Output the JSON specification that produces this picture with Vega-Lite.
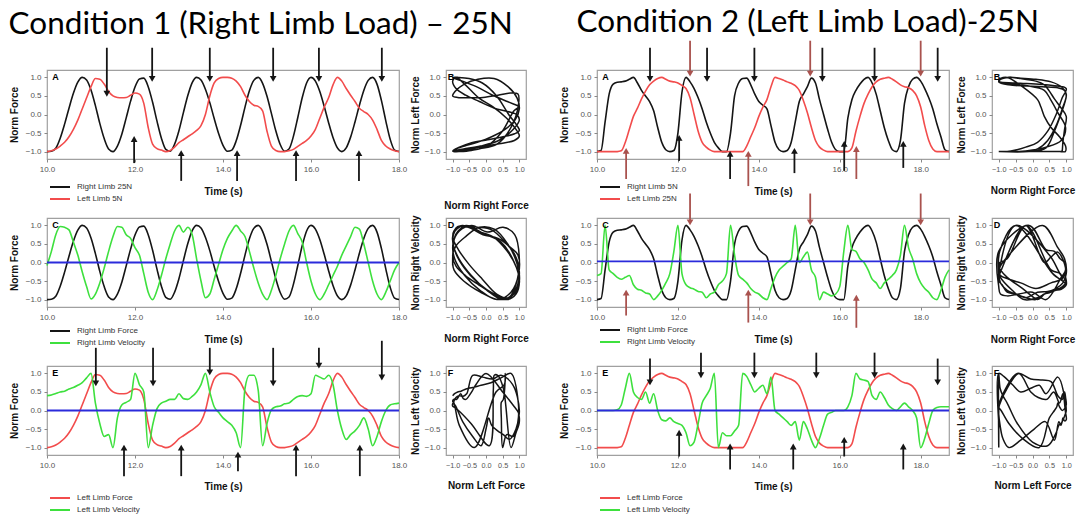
{
"$schema": "https://vega.github.io/schema/vega-lite/v6.json",
"padding": {"left": 8, "top": 6, "right": 0, "bottom": 0},
"background": "white",
"datasets": {
"c1": [
{"t":10.0,"rf":-1.0,"lf":-1.0,"rv":-0.08,"lv":0.4},
{"t":10.1,"rf":-0.99,"lf":-0.98,"rv":0.3,"lv":0.42},
{"t":10.2,"rf":-0.91,"lf":-0.93,"rv":0.75,"lv":0.46},
{"t":10.3,"rf":-0.64,"lf":-0.85,"rv":0.97,"lv":0.5},
{"t":10.4,"rf":-0.26,"lf":-0.75,"rv":0.95,"lv":0.52},
{"t":10.5,"rf":0.17,"lf":-0.6,"rv":0.88,"lv":0.58},
{"t":10.6,"rf":0.57,"lf":-0.4,"rv":0.55,"lv":0.62},
{"t":10.7,"rf":0.87,"lf":-0.15,"rv":0.2,"lv":0.68},
{"t":10.8,"rf":1.0,"lf":0.15,"rv":-0.25,"lv":0.75},
{"t":10.9,"rf":0.93,"lf":0.45,"rv":-0.65,"lv":0.88},
{"t":11.0,"rf":0.66,"lf":0.75,"rv":-0.98,"lv":1.0},
{"t":11.1,"rf":0.24,"lf":0.97,"rv":-0.85,"lv":0.2},
{"t":11.2,"rf":-0.24,"lf":0.95,"rv":-0.55,"lv":-0.35},
{"t":11.3,"rf":-0.65,"lf":0.82,"rv":-0.15,"lv":-0.7},
{"t":11.4,"rf":-0.93,"lf":0.62,"rv":0.3,"lv":-0.65},
{"t":11.5,"rf":-1.0,"lf":0.5,"rv":0.7,"lv":-1.0},
{"t":11.6,"rf":-0.85,"lf":0.46,"rv":0.97,"lv":-0.2},
{"t":11.7,"rf":-0.53,"lf":0.45,"rv":0.95,"lv":0.15},
{"t":11.8,"rf":-0.09,"lf":0.46,"rv":0.75,"lv":0.22},
{"t":11.9,"rf":0.36,"lf":0.52,"rv":0.65,"lv":0.3},
{"t":12.0,"rf":0.74,"lf":0.58,"rv":0.4,"lv":1.0},
{"t":12.1,"rf":0.96,"lf":0.55,"rv":0.2,"lv":0.7},
{"t":12.2,"rf":0.98,"lf":0.3,"rv":-0.3,"lv":0.5},
{"t":12.3,"rf":0.75,"lf":-0.35,"rv":-0.8,"lv":-1.0},
{"t":12.4,"rf":0.33,"lf":-0.8,"rv":-1.0,"lv":-0.4},
{"t":12.5,"rf":-0.18,"lf":-0.92,"rv":-0.75,"lv":0.05},
{"t":12.6,"rf":-0.64,"lf":-0.96,"rv":-0.35,"lv":0.2},
{"t":12.7,"rf":-0.94,"lf":-1.0,"rv":0.1,"lv":0.25},
{"t":12.8,"rf":-0.99,"lf":-0.97,"rv":0.5,"lv":0.3},
{"t":12.9,"rf":-0.8,"lf":-0.88,"rv":0.85,"lv":0.3},
{"t":13.0,"rf":-0.43,"lf":-0.76,"rv":1.0,"lv":0.45},
{"t":13.1,"rf":0.05,"lf":-0.68,"rv":0.82,"lv":0.32},
{"t":13.2,"rf":0.51,"lf":-0.6,"rv":0.95,"lv":0.3},
{"t":13.3,"rf":0.86,"lf":-0.52,"rv":0.75,"lv":0.38},
{"t":13.4,"rf":1.0,"lf":-0.43,"rv":0.1,"lv":0.5},
{"t":13.5,"rf":0.93,"lf":-0.3,"rv":-0.5,"lv":0.7},
{"t":13.6,"rf":0.68,"lf":0.0,"rv":-0.95,"lv":1.0},
{"t":13.7,"rf":0.32,"lf":0.5,"rv":-0.85,"lv":0.5},
{"t":13.8,"rf":-0.11,"lf":0.85,"rv":-0.45,"lv":0.1},
{"t":13.9,"rf":-0.51,"lf":0.97,"rv":-0.05,"lv":-0.05},
{"t":14.0,"rf":-0.83,"lf":1.0,"rv":0.35,"lv":-0.2},
{"t":14.1,"rf":-0.99,"lf":1.0,"rv":0.65,"lv":-0.3},
{"t":14.2,"rf":-0.96,"lf":0.98,"rv":0.85,"lv":-0.4},
{"t":14.3,"rf":-0.71,"lf":0.9,"rv":1.0,"lv":-0.6},
{"t":14.4,"rf":-0.29,"lf":0.75,"rv":0.85,"lv":-1.0},
{"t":14.5,"rf":0.2,"lf":0.52,"rv":0.7,"lv":0.6},
{"t":14.6,"rf":0.64,"lf":0.35,"rv":0.3,"lv":0.95},
{"t":14.7,"rf":0.92,"lf":0.25,"rv":-0.15,"lv":0.95},
{"t":14.8,"rf":1.0,"lf":0.22,"rv":-0.55,"lv":0.55},
{"t":14.9,"rf":0.84,"lf":0.1,"rv":-0.85,"lv":-0.95},
{"t":15.0,"rf":0.49,"lf":-0.45,"rv":-1.0,"lv":-0.35},
{"t":15.1,"rf":0.03,"lf":-0.85,"rv":-0.75,"lv":0.02},
{"t":15.2,"rf":-0.44,"lf":-0.97,"rv":-0.35,"lv":0.1},
{"t":15.3,"rf":-0.81,"lf":-1.0,"rv":0.1,"lv":0.12},
{"t":15.4,"rf":-0.99,"lf":-1.0,"rv":0.5,"lv":0.18},
{"t":15.5,"rf":-0.93,"lf":-0.98,"rv":0.85,"lv":0.2},
{"t":15.6,"rf":-0.59,"lf":-0.94,"rv":1.0,"lv":0.3},
{"t":15.7,"rf":-0.08,"lf":-0.86,"rv":0.78,"lv":0.38},
{"t":15.8,"rf":0.45,"lf":-0.78,"rv":0.55,"lv":0.4},
{"t":15.9,"rf":0.85,"lf":-0.7,"rv":0.0,"lv":0.38},
{"t":16.0,"rf":1.0,"lf":-0.58,"rv":-0.5,"lv":0.45},
{"t":16.1,"rf":0.9,"lf":-0.4,"rv":-0.85,"lv":0.95},
{"t":16.2,"rf":0.62,"lf":-0.1,"rv":-1.0,"lv":0.9},
{"t":16.3,"rf":0.22,"lf":0.2,"rv":-0.85,"lv":0.85},
{"t":16.4,"rf":-0.22,"lf":0.45,"rv":-0.6,"lv":0.95},
{"t":16.5,"rf":-0.62,"lf":0.8,"rv":-0.35,"lv":0.7},
{"t":16.6,"rf":-0.9,"lf":1.0,"rv":-0.1,"lv":0.0},
{"t":16.7,"rf":-1.0,"lf":0.9,"rv":0.2,"lv":-0.5},
{"t":16.8,"rf":-0.9,"lf":0.7,"rv":0.45,"lv":-0.78},
{"t":16.9,"rf":-0.61,"lf":0.52,"rv":0.7,"lv":-0.65},
{"t":17.0,"rf":-0.2,"lf":0.35,"rv":0.95,"lv":-0.55},
{"t":17.1,"rf":0.25,"lf":0.17,"rv":0.9,"lv":-0.4},
{"t":17.2,"rf":0.65,"lf":0.08,"rv":0.5,"lv":-0.2},
{"t":17.3,"rf":0.92,"lf":0.0,"rv":0.0,"lv":-0.5},
{"t":17.4,"rf":1.0,"lf":-0.15,"rv":-0.5,"lv":-0.95},
{"t":17.5,"rf":0.82,"lf":-0.4,"rv":-0.85,"lv":-0.7},
{"t":17.6,"rf":0.38,"lf":-0.7,"rv":-1.0,"lv":-0.3},
{"t":17.7,"rf":-0.17,"lf":-0.85,"rv":-0.8,"lv":0.0},
{"t":17.8,"rf":-0.67,"lf":-0.93,"rv":-0.5,"lv":0.15},
{"t":17.9,"rf":-0.96,"lf":-0.98,"rv":-0.2,"lv":0.18},
{"t":18.0,"rf":-1.0,"lf":-1.0,"rv":0.0,"lv":0.2}
],
"c2": [
{"t":10.0,"rf":-1.0,"lf":-1.0,"rv":-0.35,"lv":0.0},
{"t":10.1,"rf":-0.97,"lf":-1.0,"rv":-0.3,"lv":0.0},
{"t":10.2,"rf":-0.2,"lf":-1.0,"rv":1.0,"lv":0.0},
{"t":10.3,"rf":0.55,"lf":-1.0,"rv":-0.2,"lv":0.0},
{"t":10.4,"rf":0.82,"lf":-1.0,"rv":-0.3,"lv":0.0},
{"t":10.5,"rf":0.87,"lf":-1.0,"rv":-0.4,"lv":0.02},
{"t":10.6,"rf":0.88,"lf":-0.98,"rv":-0.45,"lv":0.15},
{"t":10.7,"rf":0.9,"lf":-0.75,"rv":-0.4,"lv":0.6},
{"t":10.8,"rf":0.95,"lf":-0.4,"rv":-0.35,"lv":1.0},
{"t":10.9,"rf":1.0,"lf":-0.05,"rv":-0.6,"lv":0.5},
{"t":11.0,"rf":0.85,"lf":0.17,"rv":-0.72,"lv":0.35},
{"t":11.1,"rf":0.65,"lf":0.42,"rv":-0.75,"lv":0.3},
{"t":11.2,"rf":0.5,"lf":0.63,"rv":-0.82,"lv":0.5},
{"t":11.3,"rf":0.35,"lf":0.8,"rv":-0.85,"lv":0.2},
{"t":11.4,"rf":0.1,"lf":0.9,"rv":-1.0,"lv":0.45},
{"t":11.5,"rf":-0.35,"lf":0.97,"rv":-0.9,"lv":0.0},
{"t":11.6,"rf":-0.75,"lf":1.0,"rv":-0.75,"lv":-0.25},
{"t":11.7,"rf":-0.95,"lf":0.95,"rv":-0.55,"lv":-0.28},
{"t":11.8,"rf":-1.0,"lf":0.9,"rv":-0.3,"lv":-0.2},
{"t":11.9,"rf":-0.97,"lf":0.88,"rv":0.3,"lv":-0.3},
{"t":12.0,"rf":-0.5,"lf":0.85,"rv":1.0,"lv":-0.35},
{"t":12.1,"rf":0.6,"lf":0.78,"rv":-0.3,"lv":-0.4},
{"t":12.2,"rf":1.0,"lf":0.7,"rv":-0.6,"lv":-0.6},
{"t":12.3,"rf":0.88,"lf":0.45,"rv":-0.68,"lv":-0.95},
{"t":12.4,"rf":0.7,"lf":0.0,"rv":-0.72,"lv":-0.85},
{"t":12.5,"rf":0.45,"lf":-0.45,"rv":-0.78,"lv":-0.35},
{"t":12.6,"rf":0.15,"lf":-0.75,"rv":-0.8,"lv":0.2},
{"t":12.7,"rf":-0.2,"lf":-0.88,"rv":-0.95,"lv":0.4},
{"t":12.8,"rf":-0.5,"lf":-0.96,"rv":-0.85,"lv":0.6},
{"t":12.9,"rf":-0.75,"lf":-1.0,"rv":-0.8,"lv":1.0},
{"t":13.0,"rf":-0.9,"lf":-1.0,"rv":-0.6,"lv":-1.0},
{"t":13.1,"rf":-1.0,"lf":-1.0,"rv":-0.5,"lv":-0.6},
{"t":13.2,"rf":-1.0,"lf":-1.0,"rv":-0.3,"lv":-0.68},
{"t":13.3,"rf":-0.5,"lf":-1.0,"rv":1.0,"lv":-0.68},
{"t":13.4,"rf":0.5,"lf":-1.0,"rv":0.2,"lv":-0.55},
{"t":13.5,"rf":0.85,"lf":-1.0,"rv":-0.35,"lv":-0.4},
{"t":13.6,"rf":0.97,"lf":-1.0,"rv":-0.45,"lv":1.0},
{"t":13.7,"rf":0.98,"lf":-0.85,"rv":-0.55,"lv":0.92},
{"t":13.8,"rf":0.8,"lf":-0.6,"rv":-0.7,"lv":0.7},
{"t":13.9,"rf":0.55,"lf":-0.35,"rv":-0.8,"lv":0.5},
{"t":14.0,"rf":0.35,"lf":-0.05,"rv":-0.85,"lv":0.6},
{"t":14.1,"rf":0.25,"lf":0.2,"rv":-0.95,"lv":0.68},
{"t":14.2,"rf":0.15,"lf":0.4,"rv":-1.0,"lv":0.45},
{"t":14.3,"rf":-0.3,"lf":0.75,"rv":-0.7,"lv":0.9},
{"t":14.4,"rf":-0.75,"lf":1.0,"rv":-0.4,"lv":0.0},
{"t":14.5,"rf":-0.95,"lf":0.97,"rv":-0.2,"lv":-0.1},
{"t":14.6,"rf":-1.0,"lf":0.93,"rv":-0.1,"lv":-0.2},
{"t":14.7,"rf":-0.97,"lf":0.88,"rv":0.0,"lv":-0.3},
{"t":14.8,"rf":-0.75,"lf":0.84,"rv":0.1,"lv":-0.4},
{"t":14.9,"rf":-0.2,"lf":0.78,"rv":1.0,"lv":-0.3},
{"t":15.0,"rf":0.35,"lf":0.65,"rv":0.0,"lv":-0.8},
{"t":15.1,"rf":0.55,"lf":0.38,"rv":0.15,"lv":-0.3},
{"t":15.2,"rf":0.75,"lf":0.05,"rv":0.28,"lv":-0.5},
{"t":15.3,"rf":0.98,"lf":-0.35,"rv":-0.2,"lv":-0.8},
{"t":15.4,"rf":0.85,"lf":-0.7,"rv":-0.4,"lv":-1.0},
{"t":15.5,"rf":0.4,"lf":-0.88,"rv":-1.0,"lv":-0.75},
{"t":15.6,"rf":0.0,"lf":-0.96,"rv":-0.8,"lv":-0.4},
{"t":15.7,"rf":-0.4,"lf":-1.0,"rv":-0.85,"lv":-0.1},
{"t":15.8,"rf":-0.75,"lf":-1.0,"rv":-0.9,"lv":-0.05},
{"t":15.9,"rf":-0.95,"lf":-1.0,"rv":-0.85,"lv":0.0},
{"t":16.0,"rf":-1.0,"lf":-1.0,"rv":-0.65,"lv":0.0},
{"t":16.1,"rf":-1.0,"lf":-1.0,"rv":0.3,"lv":0.0},
{"t":16.2,"rf":-0.1,"lf":-1.0,"rv":1.0,"lv":0.1},
{"t":16.3,"rf":0.4,"lf":-0.9,"rv":0.35,"lv":0.4},
{"t":16.4,"rf":0.65,"lf":-0.45,"rv":0.3,"lv":1.0},
{"t":16.5,"rf":0.82,"lf":-0.05,"rv":0.1,"lv":0.85},
{"t":16.6,"rf":0.95,"lf":0.3,"rv":0.0,"lv":0.82},
{"t":16.7,"rf":1.0,"lf":0.55,"rv":-0.2,"lv":0.78},
{"t":16.8,"rf":0.85,"lf":0.75,"rv":-0.45,"lv":0.4},
{"t":16.9,"rf":0.55,"lf":0.88,"rv":-0.55,"lv":0.3},
{"t":17.0,"rf":0.1,"lf":0.95,"rv":-0.7,"lv":0.5},
{"t":17.1,"rf":-0.35,"lf":0.98,"rv":-0.55,"lv":0.35},
{"t":17.2,"rf":-0.7,"lf":1.0,"rv":-0.45,"lv":0.15},
{"t":17.3,"rf":-0.95,"lf":0.95,"rv":-0.35,"lv":0.05},
{"t":17.4,"rf":-1.0,"lf":0.88,"rv":-0.2,"lv":0.0},
{"t":17.5,"rf":-0.7,"lf":0.8,"rv":0.2,"lv":0.1},
{"t":17.6,"rf":0.3,"lf":0.75,"rv":1.0,"lv":0.2},
{"t":17.7,"rf":0.75,"lf":0.72,"rv":0.4,"lv":0.1},
{"t":17.8,"rf":0.95,"lf":0.65,"rv":0.1,"lv":0.0},
{"t":17.9,"rf":1.0,"lf":0.5,"rv":-0.3,"lv":-0.2},
{"t":18.0,"rf":0.9,"lf":0.2,"rv":-0.55,"lv":-1.0},
{"t":18.1,"rf":0.7,"lf":-0.3,"rv":-0.7,"lv":-0.75},
{"t":18.2,"rf":0.45,"lf":-0.7,"rv":-0.8,"lv":-0.35},
{"t":18.3,"rf":0.15,"lf":-0.93,"rv":-0.95,"lv":0.0},
{"t":18.4,"rf":-0.25,"lf":-1.0,"rv":-1.0,"lv":0.08},
{"t":18.5,"rf":-0.6,"lf":-1.0,"rv":-0.75,"lv":0.1},
{"t":18.6,"rf":-0.95,"lf":-1.0,"rv":-0.4,"lv":0.1},
{"t":18.7,"rf":-1.0,"lf":-1.0,"rv":-0.2,"lv":0.1}
],
"arr": [
{"p":"A1","t":11.36,"y1":1.8,"y2":0.56,"d":"down","k":"b"},
{"p":"A1","t":12.39,"y1":1.8,"y2":0.96,"d":"down","k":"b"},
{"p":"A1","t":13.70,"y1":1.8,"y2":0.96,"d":"down","k":"b"},
{"p":"A1","t":15.14,"y1":1.8,"y2":0.96,"d":"down","k":"b"},
{"p":"A1","t":16.18,"y1":1.8,"y2":0.96,"d":"down","k":"b"},
{"p":"A1","t":17.61,"y1":1.8,"y2":0.96,"d":"down","k":"b"},
{"p":"A1","t":11.98,"y1":-1.31,"y2":-0.66,"d":"up","k":"b"},
{"p":"A1","t":13.05,"y1":-1.79,"y2":-1.04,"d":"up","k":"b"},
{"p":"A1","t":14.32,"y1":-1.79,"y2":-1.04,"d":"up","k":"b"},
{"p":"A1","t":15.66,"y1":-1.79,"y2":-1.04,"d":"up","k":"b"},
{"p":"A1","t":17.09,"y1":-1.79,"y2":-1.04,"d":"up","k":"b"},
{"p":"E1","t":11.11,"y1":1.69,"y2":0.73,"d":"down","k":"b"},
{"p":"E1","t":12.41,"y1":1.69,"y2":0.73,"d":"down","k":"b"},
{"p":"E1","t":13.70,"y1":1.69,"y2":1.03,"d":"down","k":"b"},
{"p":"E1","t":15.14,"y1":1.69,"y2":0.73,"d":"down","k":"b"},
{"p":"E1","t":16.18,"y1":1.69,"y2":1.21,"d":"down","k":"b"},
{"p":"E1","t":17.61,"y1":1.88,"y2":0.89,"d":"down","k":"b"},
{"p":"E1","t":11.75,"y1":-1.77,"y2":-1.0,"d":"up","k":"b"},
{"p":"E1","t":13.05,"y1":-1.77,"y2":-1.0,"d":"up","k":"b"},
{"p":"E1","t":14.34,"y1":-1.64,"y2":-1.19,"d":"up","k":"b"},
{"p":"E1","t":15.66,"y1":-1.77,"y2":-1.0,"d":"up","k":"b"},
{"p":"E1","t":17.11,"y1":-1.77,"y2":-1.0,"d":"up","k":"b"},
{"p":"A2","t":11.31,"y1":1.8,"y2":0.96,"d":"down","k":"b"},
{"p":"A2","t":12.72,"y1":1.8,"y2":0.96,"d":"down","k":"b"},
{"p":"A2","t":13.89,"y1":1.8,"y2":0.96,"d":"down","k":"b"},
{"p":"A2","t":15.57,"y1":1.8,"y2":0.96,"d":"down","k":"b"},
{"p":"A2","t":16.86,"y1":1.8,"y2":0.96,"d":"down","k":"b"},
{"p":"A2","t":18.42,"y1":1.8,"y2":0.96,"d":"down","k":"b"},
{"p":"A2","t":12.30,"y1":1.99,"y2":1.1,"d":"down","k":"r"},
{"p":"A2","t":15.27,"y1":1.99,"y2":1.1,"d":"down","k":"r"},
{"p":"A2","t":18.0,"y1":1.99,"y2":1.1,"d":"down","k":"r"},
{"p":"A2","t":12.03,"y1":-1.25,"y2":-0.63,"d":"up","k":"b"},
{"p":"A2","t":13.29,"y1":-1.74,"y2":-1.06,"d":"up","k":"b"},
{"p":"A2","t":14.88,"y1":-1.58,"y2":-0.98,"d":"up","k":"b"},
{"p":"A2","t":16.11,"y1":-1.52,"y2":-0.79,"d":"up","k":"b"},
{"p":"A2","t":17.57,"y1":-1.44,"y2":-0.79,"d":"up","k":"b"},
{"p":"A2","t":10.72,"y1":-1.74,"y2":-0.98,"d":"up","k":"r"},
{"p":"A2","t":13.74,"y1":-1.93,"y2":-1.06,"d":"up","k":"r"},
{"p":"A2","t":16.41,"y1":-1.74,"y2":-0.93,"d":"up","k":"r"},
{"p":"C2","t":12.30,"y1":1.86,"y2":1.08,"d":"down","k":"r"},
{"p":"C2","t":15.27,"y1":1.86,"y2":1.08,"d":"down","k":"r"},
{"p":"C2","t":18.0,"y1":1.86,"y2":1.08,"d":"down","k":"r"},
{"p":"C2","t":10.72,"y1":-1.43,"y2":-0.81,"d":"up","k":"r"},
{"p":"C2","t":13.74,"y1":-1.62,"y2":-0.81,"d":"up","k":"r"},
{"p":"C2","t":16.41,"y1":-1.76,"y2":-0.95,"d":"up","k":"r"},
{"p":"E2","t":11.31,"y1":1.4,"y2":0.76,"d":"down","k":"b"},
{"p":"E2","t":12.57,"y1":1.56,"y2":0.95,"d":"down","k":"b"},
{"p":"E2","t":13.89,"y1":1.56,"y2":0.95,"d":"down","k":"b"},
{"p":"E2","t":15.42,"y1":1.56,"y2":0.95,"d":"down","k":"b"},
{"p":"E2","t":16.86,"y1":1.56,"y2":0.95,"d":"down","k":"b"},
{"p":"E2","t":18.42,"y1":1.4,"y2":0.76,"d":"down","k":"b"},
{"p":"E2","t":12.03,"y1":-1.24,"y2":-0.6,"d":"up","k":"b"},
{"p":"E2","t":13.29,"y1":-1.59,"y2":-0.97,"d":"up","k":"b"},
{"p":"E2","t":14.85,"y1":-1.59,"y2":-0.97,"d":"up","k":"b"},
{"p":"E2","t":16.11,"y1":-1.24,"y2":-0.79,"d":"up","k":"b"},
{"p":"E2","t":17.57,"y1":-1.59,"y2":-0.97,"d":"up","k":"b"}
]
},
"hconcat": [
{
"title": {"text": "Condition 1 (Right Limb Load) – 25N", "anchor": "start", "fontSize": 31.5, "font": "Lato", "fontWeight": "normal", "color": "#000", "offset": 6},
"columns": 2,
"spacing": {"row": 59, "column": 47},
"bounds": "flush",
"resolve": {"scale": {"color": "independent"}},
"concat": [
{"width": 352, "height": 89, "layer": [
 {"data": {"name": "c1"}, "mark": {"type": "line", "interpolate": "monotone", "strokeWidth": 1.6},
  "encoding": {
   "x": {"field": "t", "type": "quantitative", "scale": {"domain": [10, 18], "nice": false, "zero": false}, "axis": {"values": [10, 12, 14, 16, 18], "tickCount": 10, "labelOverlap": false, "title": "Time (s)", "titlePadding": 13}},
   "y": {"field": "rf", "type": "quantitative", "scale": {"domain": [-1.2, 1.2], "nice": false}, "axis": {"values": [-1, -0.5, 0, 0.5, 1], "tickCount": 10, "labelOverlap": false, "title": "Norm Force", "titlePadding": 6}},
   "color": {"datum": "Right Limb 25N", "type": "nominal", "scale": {"domain": ["Right Limb 25N", "Left Limb 5N"], "range": ["#151515", "#f24c4c"]},
    "legend": {"orient": "none", "legendX": 2, "legendY": 111, "title": null, "symbolType": "stroke", "symbolSize": 400, "symbolStrokeWidth": 2, "labelFontSize": 8, "labelColor": "#333", "clipHeight": 12, "padding": 0, "rowPadding": 0, "labelOffset": 6}}}},
 {"data": {"name": "c1"}, "mark": {"type": "line", "interpolate": "monotone", "strokeWidth": 1.6},
  "encoding": {"x": {"field": "t", "type": "quantitative"}, "y": {"field": "lf", "type": "quantitative"}, "color": {"datum": "Left Limb 5N", "type": "nominal"}}},
 {"data": {"name": "arr"}, "transform": [{"filter": "datum.p === 'A1'"}], "mark": {"type": "rule", "strokeWidth": 1.8},
  "encoding": {"x": {"field": "t", "type": "quantitative"}, "y": {"field": "y1", "type": "quantitative"}, "y2": {"field": "y2"}, "color": {"condition": {"test": "datum.k === 'r'", "value": "#a9524e"}, "value": "#151515"}}},
 {"data": {"name": "arr"}, "transform": [{"filter": "datum.p === 'A1'"}], "mark": {"type": "point", "filled": true, "size": 45, "opacity": 1},
  "encoding": {"x": {"field": "t", "type": "quantitative"}, "y": {"field": "y2", "type": "quantitative"}, "shape": {"field": "d", "type": "nominal", "scale": {"domain": ["down", "up"], "range": ["triangle-down", "triangle-up"]}, "legend": null}, "color": {"condition": {"test": "datum.k === 'r'", "value": "#a9524e"}, "value": "#151515"}}},
 {"data": {"values": [{}]}, "mark": {"type": "text", "fontWeight": "bold", "fontSize": 9, "align": "left", "baseline": "middle", "font": "Liberation Sans"},
  "encoding": {"x": {"datum": 10.12}, "y": {"datum": 1.0}, "text": {"value": "A"}}}
]},
{"width": 80, "height": 89, "layer": [
 {"data": {"name": "c1"}, "mark": {"type": "line", "interpolate": "catmull-rom", "strokeWidth": 1.5, "color": "#151515"},
  "encoding": {
   "x": {"field": "rf", "type": "quantitative", "scale": {"domain": [-1.2, 1.2], "nice": false}, "axis": {"values": [-1, -0.5, 0, 0.5, 1], "tickCount": 10, "labelOverlap": false, "labelFontSize": 7.3, "title": "Norm Right Force", "titlePadding": 28}},
   "y": {"field": "lf", "type": "quantitative", "scale": {"domain": [-1.2, 1.2], "nice": false}, "axis": {"values": [-1, -0.5, 0, 0.5, 1], "tickCount": 10, "labelOverlap": false, "title": "Norm Left Force", "titlePadding": 4}},
   "order": {"field": "t", "type": "quantitative"}}},
 {"data": {"values": [{}]}, "mark": {"type": "text", "fontWeight": "bold", "fontSize": 9, "align": "left", "baseline": "middle", "font": "Liberation Sans"},
  "encoding": {"x": {"datum": -1.15}, "y": {"datum": 1.0}, "text": {"value": "B"}}}
]},
{"width": 352, "height": 89, "layer": [
 {"data": {"name": "c1"}, "mark": {"type": "line", "interpolate": "monotone", "strokeWidth": 1.6},
  "encoding": {
   "x": {"field": "t", "type": "quantitative", "scale": {"domain": [10, 18], "nice": false, "zero": false}, "axis": {"values": [10, 12, 14, 16, 18], "tickCount": 10, "labelOverlap": false, "title": "Time (s)", "titlePadding": 13}},
   "y": {"field": "rf", "type": "quantitative", "scale": {"domain": [-1.2, 1.2], "nice": false}, "axis": {"values": [-1, -0.5, 0, 0.5, 1], "tickCount": 10, "labelOverlap": false, "title": "Norm Force", "titlePadding": 6}},
   "color": {"datum": "Right Limb Force", "type": "nominal", "scale": {"domain": ["Right Limb Force", "Right Limb Velocity"], "range": ["#151515", "#3ee03e"]},
    "legend": {"orient": "none", "legendX": 2, "legendY": 107, "title": null, "symbolType": "stroke", "symbolSize": 400, "symbolStrokeWidth": 2, "labelFontSize": 8, "labelColor": "#333", "clipHeight": 12, "padding": 0, "rowPadding": 0, "labelOffset": 6}}}},
 {"data": {"name": "c1"}, "mark": {"type": "line", "interpolate": "monotone", "strokeWidth": 1.6},
  "encoding": {"x": {"field": "t", "type": "quantitative"}, "y": {"field": "rv", "type": "quantitative"}, "color": {"datum": "Right Limb Velocity", "type": "nominal"}}},
 {"data": {"values": [{}]}, "mark": {"type": "rule", "color": "#2b2bdb", "strokeWidth": 1.8}, "encoding": {"y": {"datum": 0}}},
 {"data": {"values": [{}]}, "mark": {"type": "text", "fontWeight": "bold", "fontSize": 9, "align": "left", "baseline": "middle", "font": "Liberation Sans"},
  "encoding": {"x": {"datum": 10.12}, "y": {"datum": 1.0}, "text": {"value": "C"}}}
]},
{"width": 80, "height": 89, "layer": [
 {"data": {"name": "c1"}, "mark": {"type": "line", "interpolate": "catmull-rom", "strokeWidth": 1.5, "color": "#151515"},
  "encoding": {
   "x": {"field": "rf", "type": "quantitative", "scale": {"domain": [-1.2, 1.2], "nice": false}, "axis": {"values": [-1, -0.5, 0, 0.5, 1], "tickCount": 10, "labelOverlap": false, "labelFontSize": 7.3, "title": "Norm Right Force", "titlePadding": 13}},
   "y": {"field": "rv", "type": "quantitative", "scale": {"domain": [-1.2, 1.2], "nice": false}, "axis": {"values": [-1, -0.5, 0, 0.5, 1], "tickCount": 10, "labelOverlap": false, "title": "Norm Right Velocity", "titlePadding": 4}},
   "order": {"field": "t", "type": "quantitative"}}},
 {"data": {"values": [{}]}, "mark": {"type": "text", "fontWeight": "bold", "fontSize": 9, "align": "left", "baseline": "middle", "font": "Liberation Sans"},
  "encoding": {"x": {"datum": -1.15}, "y": {"datum": 1.0}, "text": {"value": "D"}}}
]},
{"width": 352, "height": 89, "layer": [
 {"data": {"name": "c1"}, "mark": {"type": "line", "interpolate": "monotone", "strokeWidth": 1.6},
  "encoding": {
   "x": {"field": "t", "type": "quantitative", "scale": {"domain": [10, 18], "nice": false, "zero": false}, "axis": {"values": [10, 12, 14, 16, 18], "tickCount": 10, "labelOverlap": false, "title": "Time (s)", "titlePadding": 12}},
   "y": {"field": "lf", "type": "quantitative", "scale": {"domain": [-1.2, 1.2], "nice": false}, "axis": {"values": [-1, -0.5, 0, 0.5, 1], "tickCount": 10, "labelOverlap": false, "title": "Norm Force", "titlePadding": 6}},
   "color": {"datum": "Left Limb Force", "type": "nominal", "scale": {"domain": ["Left Limb Force", "Left Limb Velocity"], "range": ["#f24c4c", "#3ee03e"]},
    "legend": {"orient": "none", "legendX": 2, "legendY": 126, "title": null, "symbolType": "stroke", "symbolSize": 400, "symbolStrokeWidth": 2, "labelFontSize": 8, "labelColor": "#333", "clipHeight": 12, "padding": 0, "rowPadding": 0, "labelOffset": 6}}}},
 {"data": {"name": "c1"}, "mark": {"type": "line", "interpolate": "monotone", "strokeWidth": 1.6},
  "encoding": {"x": {"field": "t", "type": "quantitative"}, "y": {"field": "lv", "type": "quantitative"}, "color": {"datum": "Left Limb Velocity", "type": "nominal"}}},
 {"data": {"values": [{}]}, "mark": {"type": "rule", "color": "#2b2bdb", "strokeWidth": 1.8}, "encoding": {"y": {"datum": 0}}},
 {"data": {"name": "arr"}, "transform": [{"filter": "datum.p === 'E1'"}], "mark": {"type": "rule", "strokeWidth": 1.8},
  "encoding": {"x": {"field": "t", "type": "quantitative"}, "y": {"field": "y1", "type": "quantitative"}, "y2": {"field": "y2"}, "color": {"condition": {"test": "datum.k === 'r'", "value": "#a9524e"}, "value": "#151515"}}},
 {"data": {"name": "arr"}, "transform": [{"filter": "datum.p === 'E1'"}], "mark": {"type": "point", "filled": true, "size": 45, "opacity": 1},
  "encoding": {"x": {"field": "t", "type": "quantitative"}, "y": {"field": "y2", "type": "quantitative"}, "shape": {"field": "d", "type": "nominal", "scale": {"domain": ["down", "up"], "range": ["triangle-down", "triangle-up"]}, "legend": null}, "color": {"condition": {"test": "datum.k === 'r'", "value": "#a9524e"}, "value": "#151515"}}},
 {"data": {"values": [{}]}, "mark": {"type": "text", "fontWeight": "bold", "fontSize": 9, "align": "left", "baseline": "middle", "font": "Liberation Sans"},
  "encoding": {"x": {"datum": 10.12}, "y": {"datum": 1.0}, "text": {"value": "E"}}}
]},
{"width": 80, "height": 89, "layer": [
 {"data": {"name": "c1"}, "mark": {"type": "line", "interpolate": "catmull-rom", "strokeWidth": 1.5, "color": "#151515"},
  "encoding": {
   "x": {"field": "lf", "type": "quantitative", "scale": {"domain": [-1.2, 1.2], "nice": false}, "axis": {"values": [-1, -0.5, 0, 0.5, 1], "tickCount": 10, "labelOverlap": false, "labelFontSize": 7.3, "title": "Norm Left Force", "titlePadding": 12}},
   "y": {"field": "lv", "type": "quantitative", "scale": {"domain": [-1.2, 1.2], "nice": false}, "axis": {"values": [-1, -0.5, 0, 0.5, 1], "tickCount": 10, "labelOverlap": false, "title": "Norm Left Velocity", "titlePadding": 4}},
   "order": {"field": "t", "type": "quantitative"}}},
 {"data": {"values": [{}]}, "mark": {"type": "text", "fontWeight": "bold", "fontSize": 9, "align": "left", "baseline": "middle", "font": "Liberation Sans"},
  "encoding": {"x": {"datum": -1.15}, "y": {"datum": 1.0}, "text": {"value": "F"}}}
]}
]
},
{
"title": {"text": "Condition 2 (Left Limb Load)-25N", "anchor": "start", "fontSize": 31.5, "font": "Lato", "fontWeight": "normal", "color": "#000", "offset": 1, "dx": 18},
"columns": 2,
"spacing": {"row": 59, "column": 43},
"bounds": "flush",
"resolve": {"scale": {"color": "independent"}},
"concat": [
{"width": 352, "height": 89, "layer": [
 {"data": {"name": "c2"}, "mark": {"type": "line", "interpolate": "monotone", "strokeWidth": 1.6},
  "encoding": {
   "x": {"field": "t", "type": "quantitative", "scale": {"domain": [10, 18.7], "nice": false, "zero": false}, "axis": {"values": [10, 12, 14, 16, 18], "tickCount": 10, "labelOverlap": false, "title": "Time (s)", "titlePadding": 13}},
   "y": {"field": "rf", "type": "quantitative", "scale": {"domain": [-1.2, 1.2], "nice": false}, "axis": {"values": [-1, -0.5, 0, 0.5, 1], "tickCount": 10, "labelOverlap": false, "title": "Norm Force", "titlePadding": 6}},
   "color": {"datum": "Right Limb 5N", "type": "nominal", "scale": {"domain": ["Right Limb 5N", "Left Limb 25N"], "range": ["#151515", "#f24c4c"]},
    "legend": {"orient": "none", "legendX": 2, "legendY": 111, "title": null, "symbolType": "stroke", "symbolSize": 400, "symbolStrokeWidth": 2, "labelFontSize": 8, "labelColor": "#333", "clipHeight": 12, "padding": 0, "rowPadding": 0, "labelOffset": 6}}}},
 {"data": {"name": "c2"}, "mark": {"type": "line", "interpolate": "monotone", "strokeWidth": 1.6},
  "encoding": {"x": {"field": "t", "type": "quantitative"}, "y": {"field": "lf", "type": "quantitative"}, "color": {"datum": "Left Limb 25N", "type": "nominal"}}},
 {"data": {"name": "arr"}, "transform": [{"filter": "datum.p === 'A2'"}], "mark": {"type": "rule", "strokeWidth": 1.8},
  "encoding": {"x": {"field": "t", "type": "quantitative"}, "y": {"field": "y1", "type": "quantitative"}, "y2": {"field": "y2"}, "color": {"condition": {"test": "datum.k === 'r'", "value": "#a9524e"}, "value": "#151515"}}},
 {"data": {"name": "arr"}, "transform": [{"filter": "datum.p === 'A2'"}], "mark": {"type": "point", "filled": true, "size": 45, "opacity": 1},
  "encoding": {"x": {"field": "t", "type": "quantitative"}, "y": {"field": "y2", "type": "quantitative"}, "shape": {"field": "d", "type": "nominal", "scale": {"domain": ["down", "up"], "range": ["triangle-down", "triangle-up"]}, "legend": null}, "color": {"condition": {"test": "datum.k === 'r'", "value": "#a9524e"}, "value": "#151515"}}},
 {"data": {"values": [{}]}, "mark": {"type": "text", "fontWeight": "bold", "fontSize": 9, "align": "left", "baseline": "middle", "font": "Liberation Sans"},
  "encoding": {"x": {"datum": 10.13}, "y": {"datum": 1.0}, "text": {"value": "A"}}}
]},
{"width": 81, "height": 89, "layer": [
 {"data": {"name": "c2"}, "mark": {"type": "line", "interpolate": "catmull-rom", "strokeWidth": 1.5, "color": "#151515"},
  "encoding": {
   "x": {"field": "rf", "type": "quantitative", "scale": {"domain": [-1.2, 1.2], "nice": false}, "axis": {"values": [-1, -0.5, 0, 0.5, 1], "tickCount": 10, "labelOverlap": false, "labelFontSize": 7.3, "title": "Norm Right Force", "titlePadding": 13}},
   "y": {"field": "lf", "type": "quantitative", "scale": {"domain": [-1.2, 1.2], "nice": false}, "axis": {"values": [-1, -0.5, 0, 0.5, 1], "tickCount": 10, "labelOverlap": false, "title": "Norm Left Force", "titlePadding": 4}},
   "order": {"field": "t", "type": "quantitative"}}},
 {"data": {"values": [{}]}, "mark": {"type": "text", "fontWeight": "bold", "fontSize": 9, "align": "left", "baseline": "middle", "font": "Liberation Sans"},
  "encoding": {"x": {"datum": -1.15}, "y": {"datum": 1.0}, "text": {"value": "B"}}}
]},
{"width": 352, "height": 89, "layer": [
 {"data": {"name": "c2"}, "mark": {"type": "line", "interpolate": "monotone", "strokeWidth": 1.6},
  "encoding": {
   "x": {"field": "t", "type": "quantitative", "scale": {"domain": [10, 18.7], "nice": false, "zero": false}, "axis": {"values": [10, 12, 14, 16, 18], "tickCount": 10, "labelOverlap": false, "title": "Time (s)", "titlePadding": 13}},
   "y": {"field": "rf", "type": "quantitative", "scale": {"domain": [-1.2, 1.2], "nice": false}, "axis": {"values": [-1, -0.5, 0, 0.5, 1], "tickCount": 10, "labelOverlap": false, "title": "Norm Force", "titlePadding": 6}},
   "color": {"datum": "Right Limb Force", "type": "nominal", "scale": {"domain": ["Right Limb Force", "Right Limb Velocity"], "range": ["#151515", "#3ee03e"]},
    "legend": {"orient": "none", "legendX": 2, "legendY": 106, "title": null, "symbolType": "stroke", "symbolSize": 400, "symbolStrokeWidth": 2, "labelFontSize": 8, "labelColor": "#333", "clipHeight": 12, "padding": 0, "rowPadding": 0, "labelOffset": 6}}}},
 {"data": {"name": "c2"}, "mark": {"type": "line", "interpolate": "monotone", "strokeWidth": 1.6},
  "encoding": {"x": {"field": "t", "type": "quantitative"}, "y": {"field": "rv", "type": "quantitative"}, "color": {"datum": "Right Limb Velocity", "type": "nominal"}}},
 {"data": {"values": [{}]}, "mark": {"type": "rule", "color": "#2b2bdb", "strokeWidth": 1.8}, "encoding": {"y": {"datum": 0.03}}},
 {"data": {"name": "arr"}, "transform": [{"filter": "datum.p === 'C2'"}], "mark": {"type": "rule", "strokeWidth": 1.8},
  "encoding": {"x": {"field": "t", "type": "quantitative"}, "y": {"field": "y1", "type": "quantitative"}, "y2": {"field": "y2"}, "color": {"condition": {"test": "datum.k === 'r'", "value": "#a9524e"}, "value": "#151515"}}},
 {"data": {"name": "arr"}, "transform": [{"filter": "datum.p === 'C2'"}], "mark": {"type": "point", "filled": true, "size": 45, "opacity": 1},
  "encoding": {"x": {"field": "t", "type": "quantitative"}, "y": {"field": "y2", "type": "quantitative"}, "shape": {"field": "d", "type": "nominal", "scale": {"domain": ["down", "up"], "range": ["triangle-down", "triangle-up"]}, "legend": null}, "color": {"condition": {"test": "datum.k === 'r'", "value": "#a9524e"}, "value": "#151515"}}},
 {"data": {"values": [{}]}, "mark": {"type": "text", "fontWeight": "bold", "fontSize": 9, "align": "left", "baseline": "middle", "font": "Liberation Sans"},
  "encoding": {"x": {"datum": 10.13}, "y": {"datum": 1.0}, "text": {"value": "C"}}}
]},
{"width": 81, "height": 89, "layer": [
 {"data": {"name": "c2"}, "mark": {"type": "line", "interpolate": "catmull-rom", "strokeWidth": 1.5, "color": "#151515"},
  "encoding": {
   "x": {"field": "rf", "type": "quantitative", "scale": {"domain": [-1.2, 1.2], "nice": false}, "axis": {"values": [-1, -0.5, 0, 0.5, 1], "tickCount": 10, "labelOverlap": false, "labelFontSize": 7.3, "title": "Norm Right Force", "titlePadding": 14}},
   "y": {"field": "rv", "type": "quantitative", "scale": {"domain": [-1.2, 1.2], "nice": false}, "axis": {"values": [-1, -0.5, 0, 0.5, 1], "tickCount": 10, "labelOverlap": false, "title": "Norm Right  Velocity", "titlePadding": 4}},
   "order": {"field": "t", "type": "quantitative"}}},
 {"data": {"values": [{}]}, "mark": {"type": "text", "fontWeight": "bold", "fontSize": 9, "align": "left", "baseline": "middle", "font": "Liberation Sans"},
  "encoding": {"x": {"datum": -1.15}, "y": {"datum": 1.0}, "text": {"value": "D"}}}
]},
{"width": 352, "height": 89, "layer": [
 {"data": {"name": "c2"}, "mark": {"type": "line", "interpolate": "monotone", "strokeWidth": 1.6},
  "encoding": {
   "x": {"field": "t", "type": "quantitative", "scale": {"domain": [10, 18.7], "nice": false, "zero": false}, "axis": {"values": [10, 12, 14, 16, 18], "tickCount": 10, "labelOverlap": false, "title": "Time (s)", "titlePadding": 12}},
   "y": {"field": "lf", "type": "quantitative", "scale": {"domain": [-1.2, 1.2], "nice": false}, "axis": {"values": [-1, -0.5, 0, 0.5, 1], "tickCount": 10, "labelOverlap": false, "title": "Norm Force", "titlePadding": 6}},
   "color": {"datum": "Left Limb Force", "type": "nominal", "scale": {"domain": ["Left Limb Force", "Left Limb Velocity"], "range": ["#f24c4c", "#3ee03e"]},
    "legend": {"orient": "none", "legendX": 2, "legendY": 126, "title": null, "symbolType": "stroke", "symbolSize": 400, "symbolStrokeWidth": 2, "labelFontSize": 8, "labelColor": "#333", "clipHeight": 12, "padding": 0, "rowPadding": 0, "labelOffset": 6}}}},
 {"data": {"name": "c2"}, "mark": {"type": "line", "interpolate": "monotone", "strokeWidth": 1.6},
  "encoding": {"x": {"field": "t", "type": "quantitative"}, "y": {"field": "lv", "type": "quantitative"}, "color": {"datum": "Left Limb Velocity", "type": "nominal"}}},
 {"data": {"values": [{}]}, "mark": {"type": "rule", "color": "#2b2bdb", "strokeWidth": 1.8}, "encoding": {"y": {"datum": 0}}},
 {"data": {"name": "arr"}, "transform": [{"filter": "datum.p === 'E2'"}], "mark": {"type": "rule", "strokeWidth": 1.8},
  "encoding": {"x": {"field": "t", "type": "quantitative"}, "y": {"field": "y1", "type": "quantitative"}, "y2": {"field": "y2"}, "color": {"condition": {"test": "datum.k === 'r'", "value": "#a9524e"}, "value": "#151515"}}},
 {"data": {"name": "arr"}, "transform": [{"filter": "datum.p === 'E2'"}], "mark": {"type": "point", "filled": true, "size": 45, "opacity": 1},
  "encoding": {"x": {"field": "t", "type": "quantitative"}, "y": {"field": "y2", "type": "quantitative"}, "shape": {"field": "d", "type": "nominal", "scale": {"domain": ["down", "up"], "range": ["triangle-down", "triangle-up"]}, "legend": null}, "color": {"condition": {"test": "datum.k === 'r'", "value": "#a9524e"}, "value": "#151515"}}},
 {"data": {"values": [{}]}, "mark": {"type": "text", "fontWeight": "bold", "fontSize": 9, "align": "left", "baseline": "middle", "font": "Liberation Sans"},
  "encoding": {"x": {"datum": 10.13}, "y": {"datum": 1.0}, "text": {"value": "E"}}}
]},
{"width": 81, "height": 89, "layer": [
 {"data": {"name": "c2"}, "mark": {"type": "line", "interpolate": "catmull-rom", "strokeWidth": 1.5, "color": "#151515"},
  "encoding": {
   "x": {"field": "lf", "type": "quantitative", "scale": {"domain": [-1.2, 1.2], "nice": false}, "axis": {"values": [-1, -0.5, 0, 0.5, 1], "tickCount": 10, "labelOverlap": false, "labelFontSize": 7.3, "title": "Norm Left Force", "titlePadding": 12}},
   "y": {"field": "lv", "type": "quantitative", "scale": {"domain": [-1.2, 1.2], "nice": false}, "axis": {"values": [-1, -0.5, 0, 0.5, 1], "tickCount": 10, "labelOverlap": false, "title": "Norm Left  Velocity", "titlePadding": 4}},
   "order": {"field": "t", "type": "quantitative"}}},
 {"data": {"values": [{}]}, "mark": {"type": "text", "fontWeight": "bold", "fontSize": 9, "align": "left", "baseline": "middle", "font": "Liberation Sans"},
  "encoding": {"x": {"datum": -1.15}, "y": {"datum": 1.0}, "text": {"value": "F"}}}
]}
]
}
],
"spacing": 29,
"resolve": {"scale": {"color": "independent"}},
"config": {
 "view": {"stroke": "#a0a0a0", "strokeWidth": 1.2},
 "axis": {"labelFont": "Liberation Sans", "labelFontSize": 8, "labelColor": "#555", "titleFont": "Liberation Sans", "titleFontSize": 10, "titleFontWeight": "bold", "titleColor": "#111", "domain": false, "grid": false, "tickColor": "#888", "tickSize": 3, "labelPadding": 3, "format": ".1f", "labelOverlap": false, "labelFlush": false},
 "legend": {"labelFont": "Liberation Sans"}
}
}
